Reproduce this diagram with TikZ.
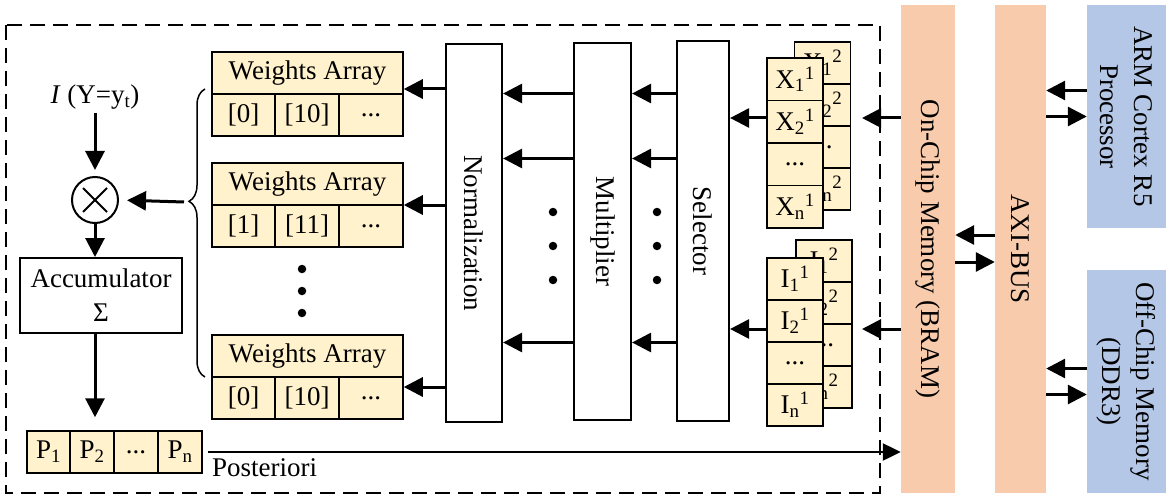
\documentclass[tikz,border=0pt]{standalone}
\usepackage{fontspec}
\setmainfont{Liberation Serif}
\usetikzlibrary{arrows.meta,decorations.pathreplacing}
\definecolor{cellyellow}{RGB}{255,242,204}
\definecolor{bramorange}{RGB}{248,203,173}
\definecolor{hostblue}{RGB}{180,199,231}

\begin{document}
\begin{tikzpicture}[x=1pt,y=-1pt,font=\fontsize{27}{34}\selectfont] % bayes classifier on the FPGA
\tikzstyle{mycell} = [draw, fill=cellyellow, line width=1.5pt, minimum height=42pt, inner sep=0pt] % one cell of an array
\tikzstyle{myblock} = [draw, fill=white, line width=2.2pt, inner sep=0pt] % white processing block
\tikzstyle{mybar} = [fill=bramorange, inner sep=0pt] % memory and bus
\tikzstyle{myhost} = [fill=hostblue, inner sep=0pt] % processor and DDR
\tikzstyle{myarrow} = [line width=3pt, -{Triangle[length=19pt,width=19pt]}] % filled arrow
\tikzstyle{mydot} = [circle, fill, minimum size=8.5pt, inner sep=0pt] % dots

\useasboundingbox (0,0) rectangle (1170,500);
\draw[line width=2pt, dash pattern=on 15pt off 8pt] (6,25) rectangle (880,493); % the PL part

% memory, bus, host
\node[mybar, minimum width=54pt, minimum height=488pt, label={[rotate=-90]center:On-Chip Memory (BRAM)}] (bram) at (928,249) {};
\node[mybar, minimum width=51pt, minimum height=488pt, label={[rotate=-90]center:AXI-BUS}] (axi) at (1020.5,249) {};
\node[myhost, minimum width=79pt, minimum height=223pt, label={[rotate=-90,align=center]center:{ARM Cortex R5\\Processor}}] (arm) at (1126.5,116.5) {};
\node[myhost, minimum width=79pt, minimum height=223pt, label={[rotate=-90,align=center]center:{Off-Chip Memory\\(DDR3)}}] (ddr) at (1126.5,381.5) {};
\coordinate (armout) at ([yshift=26pt]arm.west);
\coordinate (ddrout) at ([yshift=13pt]ddr.west);
\coordinate (ddrin) at ([yshift=-13pt]ddr.west);
\draw[myarrow] ([yshift=14pt]axi.west) -- ([yshift=14pt]bram.east);
\draw[myarrow] ([yshift=-13pt]bram.east) -- ([yshift=-13pt]axi.west);
\draw[myarrow] (armout) -- (axi.east |- armout);
\draw[myarrow] (axi.east |- arm.west) -- (arm.west);
\draw[myarrow] (ddrout) -- (axi.east |- ddrout);
\draw[myarrow] (axi.east |- ddrin) -- (ddrin);

% X stack (second copy behind)
\node[mycell, minimum width=56pt] (xb1) at (822.5,63) {X\textsubscript{1}\textsuperscript{2}};
\node[mycell, minimum width=56pt] (xb2) at (822.5,105) {X\textsubscript{2}\textsuperscript{2}};
\node[mycell, minimum width=56pt] (xb3) at (822.5,147) {...};
\node[mycell, minimum width=56pt] (xb4) at (822.5,189) {X\textsubscript{n}\textsuperscript{2}};
\node[mycell, minimum width=56pt, minimum height=42.5pt] (x1) at (795,79.25) {X\textsubscript{1}\textsuperscript{1}};
\node[mycell, minimum width=56pt, minimum height=42.5pt] (x2) at (795,121.75) {X\textsubscript{2}\textsuperscript{1}};
\node[mycell, minimum width=56pt, minimum height=42.5pt] (x3) at (795,164.25) {...};
\node[mycell, minimum width=56pt, minimum height=42.5pt] (x4) at (795,206.75) {X\textsubscript{n}\textsuperscript{1}};

% I stack (second copy behind)
\node[mycell, minimum width=56pt] (ib1) at (824,261) {I\textsubscript{1}\textsuperscript{2}};
\node[mycell, minimum width=56pt] (ib2) at (824,303) {I\textsubscript{2}\textsuperscript{2}};
\node[mycell, minimum width=56pt] (ib3) at (824,345) {...};
\node[mycell, minimum width=56pt] (ib4) at (824,387) {I\textsubscript{n}\textsuperscript{2}};
\node[mycell, minimum width=56pt] (i1) at (795,279) {I\textsubscript{1}\textsuperscript{1}};
\node[mycell, minimum width=56pt] (i2) at (795,321) {I\textsubscript{2}\textsuperscript{1}};
\node[mycell, minimum width=56pt] (i3) at (795,363) {...};
\node[mycell, minimum width=56pt] (i4) at (795,405) {I\textsubscript{n}\textsuperscript{1}};

% processing blocks
\node[myblock, minimum width=52pt, minimum height=380pt, label={[rotate=-90]center:Selector}] (sel) at (703,231) {};
\node[myblock, minimum width=57pt, minimum height=377pt, label={[rotate=-90]center:Multiplier}] (mul) at (602.5,231.5) {};
\node[myblock, minimum width=56pt, minimum height=378pt, label={[rotate=-90]center:Normalization}] (norm) at (474,233) {};

\coordinate (xin) at (862,118);
\coordinate (iin) at (862,329);
\draw[myarrow] (bram.west |- xin) -- (xin);
\draw[myarrow] (bram.west |- iin) -- (iin);
\draw[myarrow] (x2.west |- xin) -- (sel.east |- xin);
\draw[myarrow] (i2.west |- iin) -- (sel.east |- iin);

\coordinate (ra) at (0,93.5);
\coordinate (rb) at (0,158.5);
\coordinate (rc) at (0,342.5);
\draw[myarrow] (sel.west |- ra) -- (mul.east |- ra);
\draw[myarrow] (sel.west |- rb) -- (mul.east |- rb);
\draw[myarrow] (sel.west |- rc) -- (mul.east |- rc);
\draw[myarrow] (mul.west |- ra) -- (norm.east |- ra);
\draw[myarrow] (mul.west |- rb) -- (norm.east |- rb);
\draw[myarrow] (mul.west |- rc) -- (norm.east |- rc);
\foreach \y [count=\k] in {212,246,280} {
  \node[mydot] (sd\k) at (657,\y) {};
  \node[mydot] (md\k) at (553,\y) {};
}

% weights arrays
\node[mycell, minimum width=191pt] (wh1) at (307.5,73) {Weights Array};
\node[mycell, minimum width=63pt] (w1a) at (243.5,115) {[0]};
\node[mycell, minimum width=64pt] (w1b) at (307,115) {[10]};
\node[mycell, minimum width=64pt] (w1c) at (371,115) {...};
\node[mycell, minimum width=191pt] (wh2) at (307.5,184) {Weights Array};
\node[mycell, minimum width=63pt] (w2a) at (243.5,226) {[1]};
\node[mycell, minimum width=64pt] (w2b) at (307,226) {[11]};
\node[mycell, minimum width=64pt] (w2c) at (371,226) {...};
\node[mycell, minimum width=191pt] (wh3) at (307.5,356) {Weights Array};
\node[mycell, minimum width=63pt] (w3a) at (243.5,398) {[0]};
\node[mycell, minimum width=64pt] (w3b) at (307,398) {[10]};
\node[mycell, minimum width=64pt] (w3c) at (371,398) {...};
\foreach \y [count=\k] in {269,291,313} \node[mydot] (wd\k) at (302,\y) {};

\coordinate (na) at (0,89);
\coordinate (nb) at (0,205);
\coordinate (nc) at (0,387);
\draw[myarrow] (norm.west |- na) -- (w1c.east |- na);
\draw[myarrow] (norm.west |- nb) -- (w2c.east |- nb);
\draw[myarrow] (norm.west |- nc) -- (w3c.east |- nc);

% brace over the arrays
\draw[line width=1.5pt, decorate, decoration={brace, amplitude=16pt, aspect=0.61}] (205,377) -- (205,89);
\coordinate (bt) at (184,202);

% left column
\node (ind) at (95,97) {\textit{I} (Y=y\textsubscript{t})};
\node[circle, draw, line width=2pt, minimum size=46pt, inner sep=0pt] (otimes) at (95,200) {};
\draw[line width=2pt] ([shift={(-12pt,12pt)}]otimes.center) -- ([shift={(12pt,-12pt)}]otimes.center);
\draw[line width=2pt] ([shift={(-12pt,-12pt)}]otimes.center) -- ([shift={(12pt,12pt)}]otimes.center);
\node[draw, line width=2pt, minimum width=162pt, minimum height=75pt, align=center, inner sep=0pt] (acc) at (101,295.5) {Accumulator\\Σ};
\draw[myarrow, shorten >=6pt] (ind) -- (otimes);
\draw[myarrow, shorten >=8pt] (bt) -- (otimes.east);
\draw[myarrow] (otimes) -- (acc.north -| otimes);

\node[mycell, minimum width=43pt] (p1) at (48.5,452) {P\textsubscript{1}};
\node[mycell, minimum width=44pt] (p2) at (92,452) {P\textsubscript{2}};
\node[mycell, minimum width=44pt] (p3) at (136,452) {...};
\node[mycell, minimum width=44pt] (p4) at (180,452) {P\textsubscript{n}};
\draw[myarrow, shorten >=13pt] (acc.south -| otimes) -- (p2.north -| otimes);
\draw[line width=2.2pt, -{Triangle[length=18pt,width=17pt]}] ([xshift=5pt]p4.east) -- (bram.west |- p4.east);
\node[anchor=base west, inner sep=0pt] (post) at (212,476) {Posteriori};
\end{tikzpicture}
\end{document}
